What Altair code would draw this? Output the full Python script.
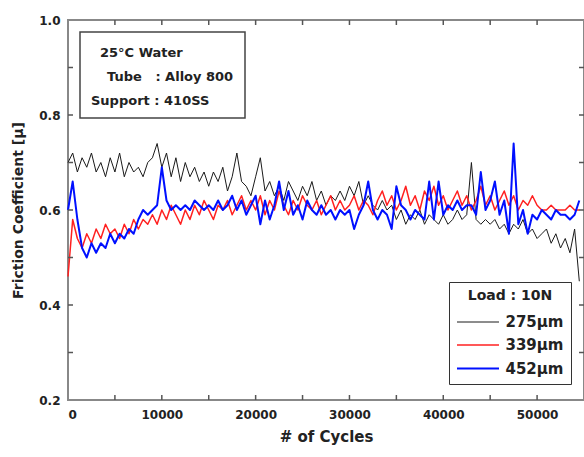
import altair as alt
import pandas as pd

# ---------------- data ----------------
cycles = [i * 500 for i in range(110)]
gap_labels = ["275μm", "339μm", "452μm"]

mu_275 = [0.70, 0.72, 0.68, 0.71, 0.69, 0.72, 0.68, 0.70, 0.67, 0.71,
          0.68, 0.72, 0.67, 0.70, 0.68, 0.69, 0.67, 0.70, 0.71, 0.74,
          0.69, 0.72, 0.67, 0.71, 0.66, 0.70, 0.67, 0.69, 0.66, 0.68,
          0.65, 0.68, 0.66, 0.69, 0.64, 0.67, 0.72, 0.66, 0.65, 0.63,
          0.67, 0.71, 0.64, 0.66, 0.63, 0.65, 0.62, 0.66, 0.64, 0.62,
          0.65, 0.63, 0.66, 0.62, 0.64, 0.61, 0.63, 0.62, 0.64, 0.62,
          0.65, 0.63, 0.66, 0.61, 0.63, 0.61, 0.60, 0.62, 0.60, 0.61,
          0.58, 0.60, 0.57, 0.59, 0.58, 0.60, 0.57, 0.59, 0.58, 0.57,
          0.59, 0.57, 0.58, 0.60, 0.58, 0.59, 0.70, 0.58, 0.57, 0.58,
          0.57, 0.58, 0.56, 0.57, 0.55, 0.57, 0.56, 0.58, 0.55, 0.56,
          0.54, 0.55, 0.56, 0.53, 0.55, 0.52, 0.54, 0.51, 0.56, 0.45]

mu_339 = [0.46, 0.58, 0.54, 0.52, 0.55, 0.53, 0.56, 0.54, 0.57, 0.55,
          0.56, 0.54, 0.57, 0.55, 0.58, 0.56, 0.58, 0.57, 0.59, 0.57,
          0.60, 0.58, 0.61, 0.59, 0.57, 0.60, 0.58, 0.61, 0.59, 0.62,
          0.60, 0.58, 0.61, 0.60, 0.62, 0.59, 0.61, 0.63, 0.60, 0.62,
          0.60, 0.63, 0.59, 0.62, 0.60, 0.64, 0.61, 0.59, 0.62, 0.60,
          0.63, 0.61, 0.60, 0.62, 0.59, 0.61, 0.63, 0.60, 0.62, 0.60,
          0.61, 0.63, 0.60, 0.62, 0.61, 0.59, 0.62, 0.64, 0.61, 0.63,
          0.60, 0.62, 0.65, 0.61, 0.63, 0.60, 0.64, 0.62, 0.65, 0.61,
          0.63, 0.60, 0.62, 0.64, 0.61, 0.63, 0.60, 0.62, 0.65, 0.61,
          0.63, 0.60, 0.62, 0.64, 0.61, 0.63, 0.60, 0.62, 0.61, 0.63,
          0.61, 0.60, 0.60, 0.61, 0.60, 0.60, 0.60, 0.61, 0.60, 0.60]

mu_452 = [0.60, 0.66, 0.58, 0.52, 0.50, 0.53, 0.51, 0.53, 0.52, 0.55,
          0.53, 0.55, 0.54, 0.56, 0.55, 0.58, 0.60, 0.59, 0.60, 0.61,
          0.69, 0.62, 0.60, 0.61, 0.60, 0.61, 0.60, 0.62, 0.61, 0.60,
          0.61, 0.60, 0.62, 0.60, 0.61, 0.63, 0.60, 0.62, 0.59, 0.61,
          0.63, 0.57, 0.62, 0.58, 0.61, 0.66, 0.60, 0.64, 0.59, 0.61,
          0.58, 0.62, 0.60, 0.59, 0.61, 0.59, 0.60, 0.58, 0.60, 0.59,
          0.60, 0.56, 0.59, 0.61, 0.66, 0.60, 0.58, 0.60, 0.59, 0.56,
          0.65, 0.61, 0.60, 0.58, 0.60, 0.59, 0.58, 0.66, 0.58, 0.66,
          0.59, 0.61, 0.60, 0.62, 0.60, 0.61, 0.61, 0.59, 0.68, 0.60,
          0.62, 0.66, 0.59, 0.62, 0.55, 0.74, 0.57, 0.60, 0.55, 0.59,
          0.58, 0.60, 0.59, 0.58, 0.60, 0.59, 0.59, 0.58, 0.59, 0.62]

series_colors = ["#1a1a1a", "#ff2020", "#0010ff"]
series_widths = [1.0, 2.0, 3.5]

x_label_values = [0, 10000, 20000, 30000, 40000, 50000]
x_tick_values = [5000, 10000, 15000, 20000, 25000, 30000, 35000, 40000, 45000, 50000]
y_label_values = [0.2, 0.4, 0.6, 0.8, 1.0]
y_tick_values = [0.3, 0.4, 0.5, 0.6, 0.7, 0.8, 0.9]

annotation_lines = ["25°C Water", "Tube\u00a0\u00a0 : Alloy 800", "Support : 410SS"]
legend_title = "Load : 10N"

# ---------------- table ----------------
rows = []
for lab, vals in zip(gap_labels, [mu_275, mu_339, mu_452]):
    for c, v in zip(cycles, vals):
        rows.append({"cycles": c, "mu": v, "gap": lab})
df = pd.DataFrame(rows)
xt = pd.DataFrame({"cycles": x_tick_values})
yt = pd.DataFrame({"mu": y_tick_values})

W, H = 516, 380
FONT = "DejaVu Sans"
X0, X1 = 0, 55000
Y0, Y1 = 0.2, 1.0
XT = 5 / W * (X1 - X0)   # tick length (5 px) in data units
YT = 5 / H * (Y1 - Y0)
xscale = alt.Scale(domain=[X0, X1], nice=False, zero=False)
yscale = alt.Scale(domain=[Y0, Y1], nice=False, zero=False)

lines = alt.Chart(df).mark_line(strokeJoin="round").encode(
    x=alt.X("cycles:Q", scale=xscale,
            axis=alt.Axis(values=x_label_values, ticks=False, domain=False, grid=False,
                          title="# of Cycles", format="d", labelFontWeight="bold",
                          labelFontSize=12, labelPadding=9, labelColor="#222",
                          titleFontSize=15, titleFontWeight="bold", titlePadding=9,
                          titleColor="#222", labelFont=FONT, titleFont=FONT)),
    y=alt.Y("mu:Q", scale=yscale,
            axis=alt.Axis(values=y_label_values, ticks=False, domain=False, grid=False,
                          title="Friction Coefficient [μ]", format=".1f",
                          labelFontWeight="bold", labelFontSize=12, labelPadding=8,
                          labelColor="#222", titleFontSize=14, titleFontWeight="bold",
                          titlePadding=13, titleColor="#222", labelFont=FONT, titleFont=FONT)),
    color=alt.Color("gap:N", scale=alt.Scale(domain=gap_labels, range=series_colors),
                    legend=alt.Legend(title=legend_title)),
    strokeWidth=alt.StrokeWidth("gap:N", scale=alt.Scale(domain=gap_labels, range=series_widths),
                                legend=alt.Legend(title=legend_title)),
    detail="gap:N",
)

tick_style = dict(color="#555", strokeWidth=1.5)
xt_bottom = alt.Chart(xt).mark_rule(**tick_style).encode(
    x="cycles:Q", y=alt.datum(Y0), y2=alt.datum(Y0 + YT))
xt_top = alt.Chart(xt).mark_rule(**tick_style).encode(
    x="cycles:Q", y=alt.datum(Y1 - YT), y2=alt.datum(Y1))
yt_left = alt.Chart(yt).mark_rule(**tick_style).encode(
    y="mu:Q", x=alt.datum(X0), x2=alt.datum(X0 + XT))
yt_right = alt.Chart(yt).mark_rule(**tick_style).encode(
    y="mu:Q", x=alt.datum(X1 - XT), x2=alt.datum(X1))

box = alt.Chart(pd.DataFrame({"k": [0]})).mark_rect(
    fill="white", stroke="#444", strokeWidth=1.5
).encode(x=alt.value(12), x2=alt.value(177), y=alt.value(12), y2=alt.value(98))

text_pos = [(32, 33), (39, 57), (23, 81)]
texts = []
for line, (tx, ty) in zip(annotation_lines, text_pos):
    texts.append(
        alt.Chart(pd.DataFrame({"t": [line]})).mark_text(
            align="left", baseline="middle", fontSize=13, fontWeight="bold",
            font=FONT, color="#222"
        ).encode(text="t:N", x=alt.value(tx), y=alt.value(ty))
    )

chart = alt.layer(lines, xt_bottom, xt_top, yt_left, yt_right, box, *texts).properties(
    width=W, height=H,
    padding={"left": 68, "top": 20, "right": 0, "bottom": 57},
    autosize=alt.AutoSizeParams(type="none"),
).configure(
    font=FONT, background="white"
).configure_view(
    stroke="#888", strokeWidth=2
).configure_legend(
    orient="none", legendX=381, legendY=262,
    strokeColor="#333", fillColor="white", padding=7,
    titleFontSize=14, titleFontWeight="bold", titleColor="#222", titleFont=FONT,
    titleAnchor="middle", titlePadding=8,
    labelFontSize=15, labelFontWeight="bold", labelColor="#222", labelFont=FONT,
    symbolType="M-2,0H2", symbolSize=441, symbolOffset=10.5, labelOffset=16,
    rowPadding=3.5,
)

chart.save("out.html", embed_options={"renderer": "svg", "actions": False})
